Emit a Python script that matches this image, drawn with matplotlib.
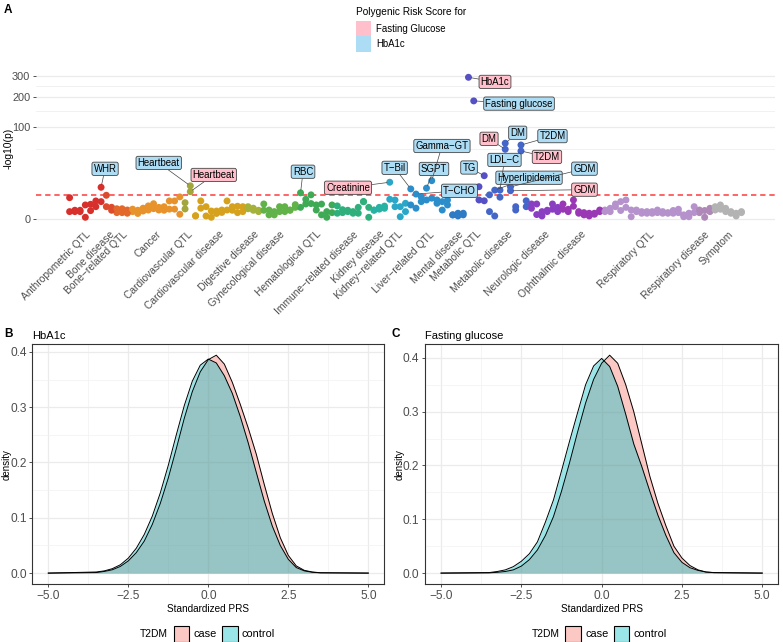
import numpy as np
import matplotlib
matplotlib.use("Agg")
import matplotlib.pyplot as plt
from matplotlib.patches import Rectangle
from matplotlib.colors import to_rgba

plt.rcParams['font.family'] = ['Liberation Sans', 'DejaVu Sans']

# ---- panel A data: trait categories (traits in plotting order) ----
categories = ["Anthropometric QTL", "Bone disease", "Bone\u2212related QTL", "Cancer",
              "Cardiovascular QTL", "Cardiovascular disease", "Digestive disease",
              "Gynecological disease", "Hematological QTL", "Immune\u2212related disease",
              "Kidney disease", "Kidney\u2212related QTL", "Liver\u2212related QTL",
              "Mental disease", "Metabolic QTL", "Metabolic disease", "Neurologic disease",
              "Ophthalmic disease", "Respiratory QTL", "Respiratory disease", "Symptom"]
cat_sizes = [7, 2, 3, 10, 2, 10, 3, 7, 7, 7, 3, 4, 8, 3, 4, 8, 6, 8, 18, 3, 6]
cat_colors = ["#D7302C", "#DC4B2B", "#E2682B", "#E8922C", "#A3A63A", "#D6A21E",
              "#A4B23C", "#62B24A", "#3FAA55", "#2EAF7C", "#28B2A3", "#2AA6C6",
              "#2B8ECB", "#2F7AC4", "#5550C4", "#4466C8", "#8A3FC2", "#9A37B5",
              "#B592CC", "#AE88B6", "#B3B3B3"]

nan = np.nan
# -log10(p) for the Fasting Glucose PRS, one value per trait
fg_logp = [0.2, 0.3, 0.2, 0.007, 0.27, 0.69, 1.6, 0.69,
           0.61, 0.14,
           0.14, 0.32, 0.2, 0.1,
           0.24, 0.32, 1.17, 0.32, 0.69, 1.76, 1.76,
           0.07, 0.42, 4.9,
           0.025, 1.76, 0.69, 0.24, 0.24, 0.32, 1.76, 0.69,
           0.75, 0.69, 0.69, 0.5, 0.3,
           1.12, 0.32, 0.05, 0.69, 0.69, 0.32,
           0.6, 0.6, 1.12, 3.6,
           0.95, 1.1, 0.007, 0.95, 0.8, 0.14, 0.2, 0.11, 0.11,
           1.6, 0.6, 0.32, 0.4,
           0.77, 10.2, 2.0, 0.69,
           1.25, 0.95, 0.5, 2.9, 2.0, 2.5, 2.0,
           1.6, 2.0, 0.05, 0.11, 0.11,
           293, nan, 2.0, 1.8, 3.6,
           0.025, 2.8, 50, 5.3, 0.69, 47,
           1.8, 1.12, 1.12, 0.2, 0.2, 1.12,
           0.6, 1.12, 0.39, 2.0, 0.2, 0.14, 0.025, 0.07, 0.2,
           0.32, 0.49, 1.12, 1.6, 2.0, 0.32, 0.32, 0.11, 0.2, 0.2,
           0.14, 0.11, 0.14, 0.11, 0.14, 0.013, 0.013,
           0.69, 0.14, 0.28,
           0.49, 0.69, 0.95, 0.49, 0.11, 0.025, 0.2]
# -log10(p) for the HbA1c PRS
hb_logp = [2.65, 0.2, 0.3, 0.95, 1.06, 1.76, 7.07, 3.45,
           0.3, 0.44,
           0.44, 0.11, 0.4, 0.3,
           0.5, 0.8, 0.45, 0.6, 0.3, 0.4, 0.4,
           2.9, 1.37, 7.9,
           0.03, 0.5, 0.025, 0.007, 0.1, 0.15, 0.32, 0.3,
           0.14, 0.2, 0.44, 0.3, 0.2,
           0.3, 0.05, 0.2, 0.2, 0.2, 0.3,
           1.0, 4.4, 2.18, 1.2,
           0.32, 0.05, 0.2, 0.14, 0.11, 0.35, 0.3, 0.2, 0.6,
           1.6, 0.007, 0.3, 0.6,
           0.49, 2.18, 0.69, 0.013,
           0.2, 6.2, 3.9, 1.6, 6.6, 11.3, 1.25,
           0.32, 0.95, 0.05, 0.025, 0.05,
           nan, 186, 7.4, 15.3, 0.2,
           5.6, 5.6, 61.5, 7.3, 0.32, 58,
           0.69, 0.49, 0.06, 0.025, 0.3, 0.39,
           0.2, 0.39, 0.2, 0.75, 0.11, 0.05, 0.11, 0.11, 0.32,
           0.2, 0.2, 0.69, 0.28, 0.6, 0.013, 0.2, 0.2, 0.11, 0.11,
           0.32, 0.2, 0.11, 0.28, 0.39, 0.05, 0.11,
           0.14, 0.32, 0.007,
           0.2, 0.32, 0.39, 0.2, 0.2, 0.11, 0.14]
threshold = 3.6

# labelled points: trait index, PRS, text
label_idx = [6, 23, 23, 44, 61, 65, 66, 68, 69, 76, 77, 79, 81, 82, 83, 83, 84, 84, 86, 86]
label_prs = ["hb", "hb", "fg", "hb", "fg", "hb", "hb", "hb", "hb", "fg", "hb", "hb",
             "hb", "hb", "hb", "fg", "hb", "fg", "hb", "fg"]
label_txt = ["WHR", "Heartbeat", "Heartbeat", "RBC", "Creatinine", "T\u2212Bil", "T\u2212CHO",
             "SGPT", "Gamma\u2212GT", "HbA1c", "Fasting glucose", "TG", "Hyperlipidemia",
             "LDL\u2212C", "DM", "DM", "GDM", "GDM", "T2DM", "T2DM"]
# label box offsets from the point (pixels), like ggrepel placement
label_off = [(4, 18.5), (-31.6, 22.9), (23.4, 16.7), (2.5, 21.1), (-41.8, -5.5),
             (-16.1, 21.1), (43.5, 3.3), (7.5, 19.2), (10.2, 34.7), (26.5, -4.6),
             (45.3, -2.7), (-15.2, 8.2), (34.3, 12.4), (4.5, 30.2), (12.5, 10.5),
             (-16.2, 10.5), (74, 18.2), (74, 1.1), (31.5, 8.9), (26, -5.9)]

# ---- panels B/C data: density of standardized PRS ----
prs_x = [-5.0, -3.5, -3.25, -3.0, -2.75, -2.5, -2.25, -2.0, -1.75, -1.5, -1.25, -1.0,
         -0.75, -0.5, -0.25, 0.0, 0.25, 0.5, 0.75, 1.0, 1.25, 1.5, 1.75, 2.0, 2.25,
         2.5, 2.75, 3.0, 3.25, 3.5, 5.0]
hba1c_case = [0.0, 0.001, 0.003, 0.006, 0.012, 0.022, 0.037, 0.058, 0.088, 0.126, 0.172,
              0.225, 0.28, 0.328, 0.364, 0.386, 0.394, 0.378, 0.345, 0.305, 0.262, 0.215,
              0.16, 0.108, 0.064, 0.032, 0.013, 0.005, 0.002, 0.0007, 0.0]
hba1c_control = [0.0, 0.002, 0.004, 0.008, 0.015, 0.027, 0.045, 0.07, 0.103, 0.145, 0.195,
                 0.25, 0.303, 0.347, 0.376, 0.387, 0.38, 0.357, 0.325, 0.283, 0.235, 0.182,
                 0.13, 0.085, 0.05, 0.025, 0.01, 0.004, 0.0015, 0.0005, 0.0]
fg_case = [0.0, 0.0005, 0.0015, 0.003, 0.006, 0.013, 0.025, 0.043, 0.07, 0.105, 0.152,
           0.205, 0.262, 0.316, 0.36, 0.39, 0.405, 0.39, 0.35, 0.3, 0.24, 0.18, 0.13,
           0.088, 0.05, 0.028, 0.014, 0.006, 0.002, 0.0008, 0.0]
fg_control = [0.0, 0.001, 0.003, 0.006, 0.012, 0.022, 0.036, 0.058, 0.095, 0.136, 0.19,
              0.245, 0.298, 0.35, 0.385, 0.399, 0.384, 0.347, 0.295, 0.24, 0.198, 0.152,
              0.108, 0.07, 0.038, 0.02, 0.01, 0.005, 0.002, 0.001, 0.0]

PINK = "#FFC0CB"
BLUE = "#ADDCF5"
CASE = "#F8766D"
CTRL = "#00BFC4"
W, H = 783, 642

fig = plt.figure(figsize=(W / 100, H / 100), dpi=100)

def box(l, t, r, b):
    return [l / W, 1 - b / H, (r - l) / W, (b - t) / H]

def fig_rect(l, t, w, h, **kw):
    fig.add_artist(Rectangle((l / W, 1 - (t + h) / H), w / W, h / H,
                             transform=fig.transFigure, **kw))

def fig_text(x, y, s, **kw):
    fig.text(x / W, 1 - y / H, s, va='center', ha='left', **kw)

# ================= panel A =================
axA = fig.add_axes(box(36, 70.2, 775, 226.4))
fwd = lambda y: np.sign(y) * np.abs(y) ** 0.4
inv = lambda y: np.sign(y) * np.abs(y) ** 2.5
axA.set_yscale('function', functions=(fwd, inv))

n = sum(cat_sizes)
xs = np.arange(n)
fg = np.array(fg_logp, dtype=float)
hb = np.array(hb_logp, dtype=float)
cols = np.repeat(cat_colors, cat_sizes)
for vals in (fg, hb):
    ok = ~np.isnan(vals)
    axA.scatter(xs[ok], vals[ok], c=cols[ok], s=25, linewidths=0, zorder=3)

axA.axhline(threshold, color="#FF3B3B", lw=1.1, dashes=(3.5, 2.5), zorder=2)

starts = np.cumsum([0] + cat_sizes[:-1])
centers = starts + (np.array(cat_sizes) - 1) / 2
axA.set_xticks(centers)
axA.set_xticklabels(categories, rotation=45, ha='right', va='top',
                    rotation_mode='anchor', fontsize=7.4, color='#4D4D4D')
axA.tick_params(axis='x', length=0, pad=2)
axA.set_xlim(-0.05 * (n - 1), (n - 1) * 1.05)

top = fwd(np.nanmax(np.r_[fg, hb]))
axA.set_ylim(-inv(0.05 * top), inv(1.05 * top))
axA.set_yticks([0, 100, 200, 300])
axA.set_yticks([50, 150, 250], minor=True)
axA.tick_params(axis='y', which='major', labelsize=7.9, labelcolor='#4D4D4D',
                length=2.5, width=0.6, color='#333333', pad=1.5)
axA.tick_params(axis='y', which='minor', length=0)
axA.grid(axis='y', which='major', color='#EBEBEB', lw=0.9)
axA.grid(axis='y', which='minor', color='#EBEBEB', lw=0.5)
axA.set_axisbelow(True)
for sp in axA.spines.values():
    sp.set_visible(False)
axA.set_ylabel("-log10(p)", fontsize=7.4)
axA.yaxis.set_label_coords(-0.031, 0.5)

for i, prs, txt, off in zip(label_idx, label_prs, label_txt, label_off):
    v = fg[i] if prs == "fg" else hb[i]
    axA.annotate(txt, xy=(i, v), xytext=off, textcoords='offset pixels',
                 ha='center', va='center', fontsize=6.9, color='black', zorder=5,
                 bbox=dict(boxstyle='round,pad=0.17,rounding_size=0.2',
                           fc=PINK if prs == "fg" else BLUE, ec='#444444', lw=0.6),
                 arrowprops=dict(arrowstyle='-', color='#444444', lw=0.5,
                                 shrinkA=0, shrinkB=2))

# top legend (fill of the label boxes)
fig_text(356, 11.7, "Polygenic Risk Score for", fontsize=7.3)
fig_rect(356, 20.7, 15, 15.5, fc=PINK, ec='none')
fig_rect(356, 36.2, 15, 15.5, fc=BLUE, ec='none')
fig_text(376.5, 28.5, "Fasting Glucose", fontsize=6.9)
fig_text(376.5, 44.0, "HbA1c", fontsize=6.9)

# ================= panels B and C =================
def density_panel(ax, case, ctrl, title, ylab_x):
    ax.fill_between(prs_x, case, color=CASE, alpha=0.4, lw=0)
    ax.plot(prs_x, case, color='black', lw=0.7)
    ax.fill_between(prs_x, ctrl, color=CTRL, alpha=0.4, lw=0)
    ax.plot(prs_x, ctrl, color='black', lw=0.7)
    ymax = max(max(case), max(ctrl))
    ax.set_xlim(-5.5, 5.5)
    ax.set_ylim(-0.05 * ymax, 1.05 * ymax)
    ax.set_xticks([-5.0, -2.5, 0.0, 2.5, 5.0])
    ax.set_xticklabels(["\u22125.0", "\u22122.5", "0.0", "2.5", "5.0"])
    ax.set_xticks([-3.75, -1.25, 1.25, 3.75], minor=True)
    ax.set_yticks([0.0, 0.1, 0.2, 0.3, 0.4])
    ax.set_yticks([0.05, 0.15, 0.25, 0.35], minor=True)
    ax.tick_params(which='major', labelsize=8.6, labelcolor='#4D4D4D', length=2.5,
                   width=0.6, color='#333333', pad=1.5)
    ax.tick_params(which='minor', length=0)
    ax.grid(which='major', color='#EBEBEB', lw=0.9)
    ax.grid(which='minor', color='#F2F2F2', lw=0.5)
    ax.set_axisbelow(True)
    for sp in ax.spines.values():
        sp.set_color('#333333')
        sp.set_linewidth(0.8)
    ax.set_xlabel("Standardized PRS", fontsize=7.2, labelpad=2)
    ax.set_ylabel("density", fontsize=7)
    ax.yaxis.set_label_coords(ylab_x, 0.5)
    ax.set_title(title, loc='left', fontsize=8, pad=4)

axB = fig.add_axes(box(32.3, 344.3, 384.3, 584))
density_panel(axB, hba1c_case, hba1c_control, "HbA1c", -0.06)
axC = fig.add_axes(box(425, 344.3, 778.3, 584))
density_panel(axC, fg_case, fg_control, "Fasting glucose", -0.059)

# bottom legends: T2DM case / control
for x0 in (140, 531.7):
    fig_text(x0, 634, "T2DM", fontsize=7.4)
    fig_rect(x0 + 33.5, 625.5, 15.5, 16, fc=to_rgba(CASE, 0.4), ec='black', lw=0.8)
    fig_text(x0 + 53.5, 634, "case", fontsize=7.9)
    fig_rect(x0 + 82, 625.5, 15.5, 16, fc=to_rgba(CTRL, 0.4), ec='black', lw=0.8)
    fig_text(x0 + 102, 634, "control", fontsize=7.9)

# panel letters
fig_text(4, 10, "A", fontsize=8.5, fontweight='bold')
fig_text(4, 334, "B", fontsize=8.5, fontweight='bold')
fig_text(391, 334, "C", fontsize=8.5, fontweight='bold')

fig.savefig("out.png", dpi=100)
